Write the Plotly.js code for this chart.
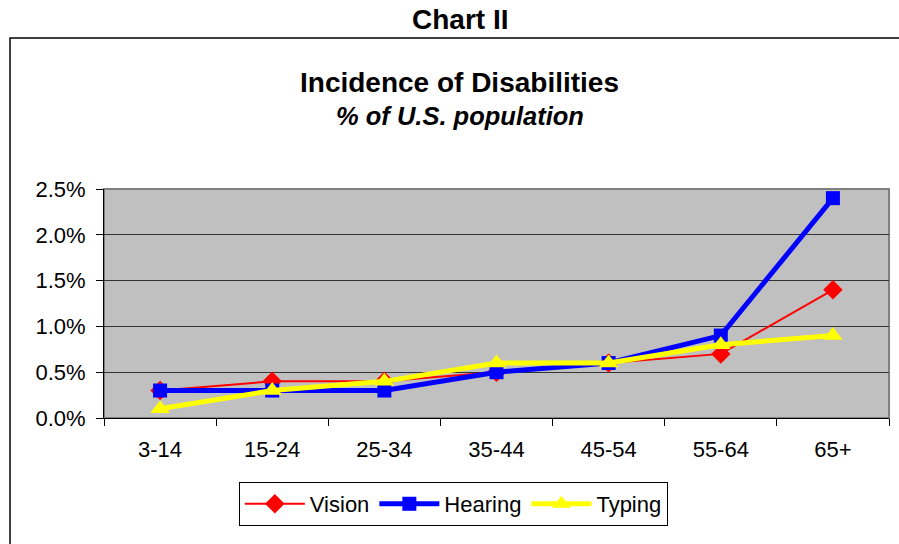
<!DOCTYPE html>
<html><head><meta charset="utf-8">
<script src="https://cdn.plot.ly/plotly-3.0.1.min.js"></script>
<style>html,body{margin:0;padding:0;background:#fff}</style>
</head><body>
<div id="chart" style="width:899px;height:544px"></div>
<script>
const categories = ["3-14","15-24","25-34","35-44","45-54","55-64","65+"];
const vision  = [0.003,0.004,0.004,0.005,0.006,0.007,0.014];
const hearing = [0.003,0.003,0.003,0.005,0.006,0.009,0.024];
const typing  = [0.001,0.003,0.004,0.006,0.006,0.008,0.009];
const yTicks = [0,0.005,0.01,0.015,0.02,0.025];
const yTickText = ["0.0%","0.5%","1.0%","1.5%","2.0%","2.5%"];

const font = {family:"Liberation Sans, Arial, sans-serif", color:"#000"};
const traces = [
  {name:"Vision", x:categories, y:vision, mode:"lines+markers",
   line:{color:"#FF0000", width:2}, marker:{symbol:"diamond", size:15, color:"#FF0000"}},
  {name:"Hearing", x:categories, y:hearing, mode:"lines+markers",
   line:{color:"#0000FF", width:5}, marker:{symbol:"square", size:14, color:"#0000FF"}},
  {name:"Typing", x:categories, y:typing, mode:"lines+markers",
   line:{color:"#FFFF00", width:5}, marker:{symbol:"triangle-up", size:17, color:"#FFFF00"}}
];
const layout = {
  width:899, height:544,
  margin:{l:104, r:10, t:189, b:126, pad:0},
  paper_bgcolor:"#fff", plot_bgcolor:"#C0C0C0",
  font:Object.assign({size:22}, font),
  showlegend:true,
  legend:{orientation:"h", x:0.445, xanchor:"center", y:-0.3755, yanchor:"middle",
    bordercolor:"#000", borderwidth:1, bgcolor:"#fff", font:Object.assign({size:22}, font),
    itemwidth:60, traceorder:"normal"},
  xaxis:{type:"category", range:[-0.5,6.5], automargin:false, tickson:"boundaries", ticks:"outside",
    ticklen:7, tickcolor:"#000", ticklabelstandoff:12,
    showline:true, linecolor:"#000", linewidth:1, showgrid:false, fixedrange:true,
    tickfont:Object.assign({size:22}, font)},
  yaxis:{range:[0,0.025], automargin:false, tickvals:yTicks, ticktext:yTickText, ticks:"outside", ticklen:7,
    ticklabelstandoff:6,
    tickcolor:"#000", showline:true, linecolor:"#000", linewidth:1, showgrid:true,
    gridcolor:"#333", gridwidth:1, zeroline:false, fixedrange:true,
    tickfont:Object.assign({size:22}, font)},
  shapes:[
    {type:"rect", xref:"paper", yref:"paper", x0:-0.1197, x1:1.2, y0:-1, y1:1.659,
     line:{color:"#000", width:1.5}, layer:"below"},
    {type:"rect", xref:"paper", yref:"paper", x0:0, x1:1, y0:0, y1:1,
     line:{color:"#808080", width:2}, layer:"below"}
  ],
  annotations:[
    {text:"<b>Chart II</b>", xref:"paper", yref:"paper", x:0.4535, y:1.738, showarrow:false,
     xanchor:"center", yanchor:"middle", font:Object.assign({size:28}, font)},
    {text:"<b>Incidence of Disabilities</b>", xref:"paper", yref:"paper", x:0.4535, y:1.467, showarrow:false,
     xanchor:"center", yanchor:"middle", font:Object.assign({size:28}, font)},
    {text:"<b><i>% of U.S. population</i></b>", xref:"paper", yref:"paper", x:0.4535, y:1.319, showarrow:false,
     xanchor:"center", yanchor:"middle", font:Object.assign({size:25.5}, font)}
  ]
};
Plotly.newPlot("chart", traces, layout, {staticPlot:true, displayModeBar:false});
</script>
</body></html>
